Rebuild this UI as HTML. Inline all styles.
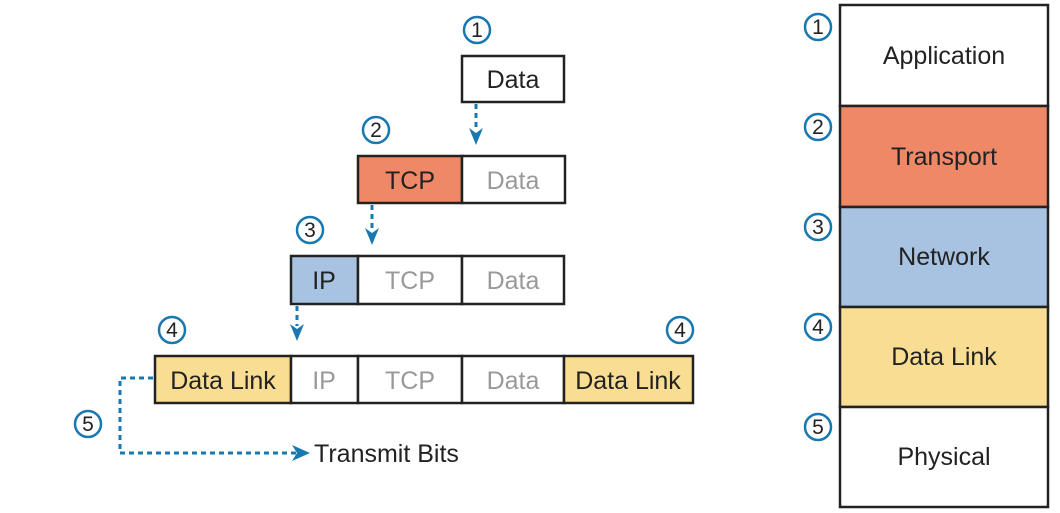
<!DOCTYPE html>
<html><head><meta charset="utf-8"><style>
html,body{margin:0;padding:0;background:#fff;}
svg{display:block;}
text{font-family:"Liberation Sans",sans-serif;}
</style></head><body>
<svg width="1060" height="513" viewBox="0 0 1060 513" xmlns="http://www.w3.org/2000/svg">
<g stroke="#222" stroke-width="2.5">
<rect x="462" y="56" width="102" height="46" fill="#fff"/>
<rect x="358" y="156" width="104" height="47" fill="#ef8866"/>
<rect x="462" y="156" width="103" height="47" fill="#fff"/>
<rect x="291" y="256" width="67" height="48" fill="#a7c3e1"/>
<rect x="358" y="256" width="104" height="48" fill="#fff"/>
<rect x="462" y="256" width="102" height="48" fill="#fff"/>
<rect x="155" y="356" width="136" height="47" fill="#f8dd92"/>
<rect x="291" y="356" width="67" height="47" fill="#fff"/>
<rect x="358" y="356" width="104" height="47" fill="#fff"/>
<rect x="462" y="356" width="102" height="47" fill="#fff"/>
<rect x="564" y="356" width="129" height="47" fill="#f8dd92"/>
<rect x="840" y="5" width="208" height="101" fill="#fff"/>
<rect x="840" y="106" width="208" height="101" fill="#ef8866"/>
<rect x="840" y="207" width="208" height="100" fill="#a7c3e1"/>
<rect x="840" y="307" width="208" height="100" fill="#f8dd92"/>
<rect x="840" y="407" width="208" height="100" fill="#fff"/>
</g>
<g font-size="25" text-anchor="middle" fill="#222">
<text x="513" y="88">Data</text>
<text x="410" y="189">TCP</text>
<text x="513" y="189" fill="#999">Data</text>
<text x="324" y="289">IP</text>
<text x="410" y="289" fill="#999">TCP</text>
<text x="513" y="289" fill="#999">Data</text>
<text x="223" y="389">Data Link</text>
<text x="324" y="389" fill="#999">IP</text>
<text x="410" y="389" fill="#999">TCP</text>
<text x="513" y="389" fill="#999">Data</text>
<text x="628" y="389">Data Link</text>
<text x="944" y="64">Application</text>
<text x="944" y="165">Transport</text>
<text x="944" y="265">Network</text>
<text x="944" y="365">Data Link</text>
<text x="944" y="465">Physical</text>
<text x="314" y="462" text-anchor="start">Transmit Bits</text>
</g>
<g stroke="#1a78b0" stroke-width="3" stroke-dasharray="5,4" fill="none">
<line x1="476" y1="104" x2="476" y2="130"/>
<line x1="372" y1="205" x2="372" y2="230"/>
<line x1="297" y1="306" x2="297" y2="326"/>
<polyline points="153,378 120,378 120,453 296,453"/>
</g>
<g fill="#1a78b0">
<path d="M469,128 L476,145 L483,128 L476,133 Z"/>
<path d="M365,228 L372,245 L379,228 L372,233 Z"/>
<path d="M290,324 L297,341 L304,324 L297,329 Z"/>
<path d="M292,445 L310,453 L292,461 L297,453 Z"/>
</g>
<g stroke="#1a78b0" stroke-width="2.5" fill="#fff">
<circle cx="477" cy="30" r="13"/><circle cx="376" cy="130" r="13"/>
<circle cx="310" cy="230" r="13"/><circle cx="172" cy="330" r="13"/>
<circle cx="680" cy="330" r="13"/><circle cx="88" cy="424" r="13"/>
<circle cx="818" cy="27" r="13"/><circle cx="818" cy="127" r="13"/>
<circle cx="818" cy="227" r="13"/><circle cx="818" cy="327" r="13"/>
<circle cx="818" cy="427" r="13"/>
</g>
<g font-size="21" text-anchor="middle" fill="#222">
<text x="477" y="37">1</text><text x="376" y="137">2</text>
<text x="310" y="237">3</text><text x="172" y="337">4</text>
<text x="680" y="337">4</text><text x="88" y="431">5</text>
<text x="818" y="34">1</text><text x="818" y="134">2</text>
<text x="818" y="234">3</text><text x="818" y="334">4</text>
<text x="818" y="434">5</text>
</g>
</svg>
</body></html>
